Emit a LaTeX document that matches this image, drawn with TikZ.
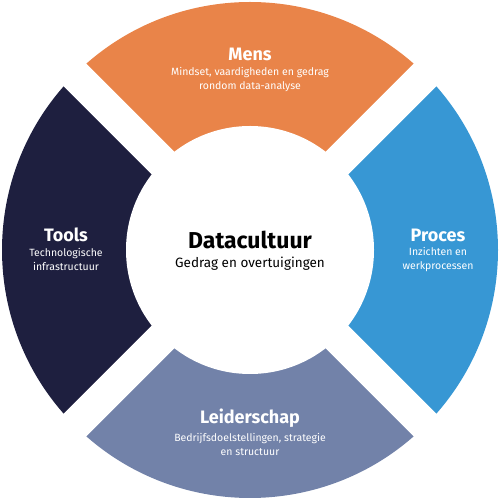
\documentclass[tikz,border=0pt]{standalone}
\usepackage{fontspec}
\setmainfont{Fira Sans}
\usetikzlibrary{positioning}
\definecolor{mensorange}{HTML}{E98449}
\definecolor{procesblue}{HTML}{3797D4}
\definecolor{leiderslate}{HTML}{7282A9}
\definecolor{toolsnavy}{HTML}{1E1F3F}

\begin{document}
\begin{tikzpicture}[
    x=1pt, y=1pt, node distance=1pt,
    title/.style={font=\bfseries\fontsize{18}{20}\selectfont,
                  text=white, inner sep=0pt},
    sub/.style={font=\fontsize{10.5}{13.5}\selectfont, text=white,
                align=center, inner sep=0pt}
  ]
  \useasboundingbox (0,0) rectangle (500,500);
  \coordinate (c) at (250,250);

  % ring segments
  \fill[mensorange] (c) -- ++(45:248) arc[start angle=45, end angle=135, radius=248] -- cycle;
  \fill[toolsnavy] (c) -- ++(135:248) arc[start angle=135, end angle=225, radius=248] -- cycle;
  \fill[leiderslate] (c) -- ++(225:248) arc[start angle=225, end angle=315, radius=248] -- cycle;
  \fill[procesblue] (c) -- ++(315:248) arc[start angle=315, end angle=405, radius=248] -- cycle;
  \fill[white] (c) circle[radius=124];
  \draw[white, line width=32pt] (c) -- ++(45:250);
  \draw[white, line width=32pt] (c) -- ++(135:250);
  \draw[white, line width=32pt] (c) -- ++(225:250);
  \draw[white, line width=32pt] (c) -- ++(315:250);

  % centre
  \node[font=\bfseries\fontsize{23}{25}\selectfont, inner sep=0pt] (dc) at (250,260) {Datacultuur};
  \node[font=\fontsize{13.5}{16}\selectfont, inner sep=0pt, below=8pt of dc] (dcsub) {Gedrag en overtuigingen};

  % segments
  \node[title] (mens) at (250,446) {Mens};
  \node[sub, below=7pt of mens] (menssub) {Mindset, vaardigheden en gedrag\\rondom data-analyse};

  \node[title] (tools) at (66,265) {Tools};
  \node[sub, below=6pt of tools] (toolssub) {Technologische\\infrastructuur};

  \node[title] (proces) at (438,265) {Proces};
  \node[sub, below=6pt of proces] (procsub) {Inzichten en\\werkprocessen};

  \node[title] (leider) at (250,82) {Leiderschap};
  \node[sub, below=6pt of leider] (leidsub) {Bedrijfsdoelstellingen, strategie\\en structuur};
\end{tikzpicture}
\end{document}
